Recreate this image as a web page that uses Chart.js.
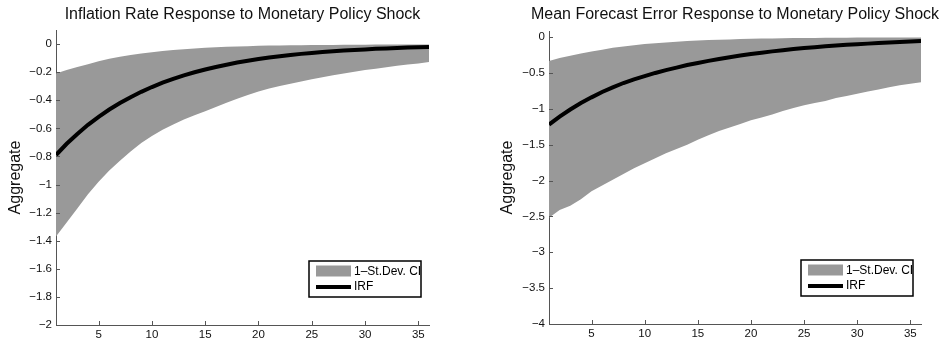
<!DOCTYPE html>
<html>
<head>
<meta charset="utf-8">
<script src="https://cdn.jsdelivr.net/npm/chart.js@4.4.1/dist/chart.umd.min.js"></script>
<style>
  html, body { margin: 0; padding: 0; background: #fff; }
  .panel { position: absolute; top: 0; width: 470px; height: 344px; }
  #left-panel { left: 0; }
  #right-panel { left: 470px; }
</style>
</head>
<body>
<div class="panel" id="left-panel"><canvas id="inflation-chart"></canvas></div>
<div class="panel" id="right-panel"><canvas id="forecast-chart"></canvas></div>
<script>
/** 기간 (horizon) **/
const periods = [1, 2, 3, 4, 5, 6, 7, 8, 9, 10, 11, 12, 13, 14, 15, 16, 17, 18,
  19, 20, 21, 22, 23, 24, 25, 26, 27, 28, 29, 30, 31, 32, 33, 34, 35, 36];
const xTicks = [5, 10, 15, 20, 25, 30, 35];

/** 인플레이션 반응 **/
const inflationIrf = [-0.79, -0.71, -0.64, -0.575, -0.518, -0.466, -0.42, -0.378, -0.34, -0.306,
  -0.275, -0.248, -0.223, -0.201, -0.181, -0.163, -0.147, -0.132, -0.119, -0.107,
  -0.096, -0.087, -0.078, -0.07, -0.063, -0.057, -0.051, -0.046, -0.042, -0.038,
  -0.034, -0.031, -0.028, -0.025, -0.023, -0.021];
const inflationUpper = [-0.21, -0.185, -0.163, -0.143, -0.122, -0.105, -0.09, -0.078, -0.067, -0.058,
  -0.05, -0.043, -0.037, -0.032, -0.027, -0.023, -0.02, -0.017, -0.015, -0.013,
  -0.011, -0.01, -0.009, -0.008, -0.007, -0.0065, -0.006, -0.0055, -0.005, -0.0045,
  -0.004, -0.004, -0.0035, -0.0035, -0.003, -0.003];
const inflationLower = [-1.37, -1.27, -1.17, -1.07, -0.98, -0.9, -0.83, -0.765, -0.705, -0.655,
  -0.61, -0.572, -0.538, -0.507, -0.478, -0.448, -0.418, -0.39, -0.362, -0.337,
  -0.317, -0.299, -0.282, -0.266, -0.251, -0.237, -0.223, -0.21, -0.197, -0.185,
  -0.175, -0.165, -0.155, -0.146, -0.138, -0.128];
const inflationTicks = [0, -0.2, -0.4, -0.6, -0.8, -1, -1.2, -1.4, -1.6, -1.8, -2];

/** 예측오차 반응 **/
const forecastIrf = [-1.22, -1.11, -1.01, -0.92, -0.84, -0.765, -0.7, -0.64, -0.59, -0.545,
  -0.5, -0.46, -0.425, -0.39, -0.36, -0.332, -0.305, -0.28, -0.257, -0.236,
  -0.217, -0.199, -0.182, -0.167, -0.153, -0.141, -0.129, -0.118, -0.108, -0.099,
  -0.091, -0.083, -0.076, -0.069, -0.063, -0.056];
const forecastUpper = [-0.335, -0.29, -0.26, -0.23, -0.2, -0.175, -0.15, -0.13, -0.112, -0.097,
  -0.085, -0.074, -0.064, -0.056, -0.049, -0.042, -0.037, -0.032, -0.028, -0.024,
  -0.021, -0.018, -0.016, -0.014, -0.012, -0.011, -0.01, -0.009, -0.008, -0.007,
  -0.0065, -0.006, -0.0055, -0.005, -0.0045, -0.004];
const forecastLower = [-2.52, -2.41, -2.35, -2.26, -2.15, -2.07, -1.99, -1.91, -1.83, -1.76,
  -1.69, -1.62, -1.56, -1.5, -1.43, -1.37, -1.31, -1.26, -1.21, -1.16,
  -1.12, -1.08, -1.03, -0.99, -0.95, -0.92, -0.89, -0.85, -0.82, -0.79,
  -0.76, -0.73, -0.7, -0.67, -0.65, -0.63];
const forecastTicks = [0, -0.5, -1, -1.5, -2, -2.5, -3, -3.5, -4];

/** 공통 부분 **/
const fontFamily = '"Liberation Sans", Arial, Helvetica, sans-serif';
const axisColor = '#555555';
const bandColor = '#999999';
const legendLabels = ['1\u2013St.Dev. CI', 'IRF'];

function toPoints(values) {
  return periods.map((p, i) => ({x: p, y: values[i]}));
}

function tickText(v) {
  let s = String(Math.round(v * 10) / 10);
  return s.replace('-', '\u2212');
}

/** MATLAB 스타일 축, 제목, 범례 **/
const matlabStyle = {
  id: 'matlabStyle',
  afterDatasetsDraw(chart, args, opts) {
    const ctx = chart.ctx, area = chart.chartArea;
    const xs = chart.scales.x, ys = chart.scales.y;
    ctx.save();
    // 안쪽 눈금
    ctx.strokeStyle = axisColor;
    ctx.lineWidth = 1;
    ctx.beginPath();
    ys.ticks.forEach(t => {
      const y = Math.round(ys.getPixelForValue(t.value)) + 0.5;
      ctx.moveTo(area.left, y);
      ctx.lineTo(area.left + 4, y);
    });
    xs.ticks.forEach(t => {
      const x = Math.round(xs.getPixelForValue(t.value)) + 0.5;
      ctx.moveTo(x, area.bottom);
      ctx.lineTo(x, area.bottom - 4);
    });
    ctx.stroke();

    // 범례
    const w = 112, h = 36;
    const bx = area.right - 8 - w, by = area.bottom - 28 - h;
    ctx.fillStyle = '#ffffff';
    ctx.fillRect(bx, by, w, h);
    ctx.strokeStyle = '#000000';
    ctx.lineWidth = 1.5;
    ctx.strokeRect(bx, by, w, h);
    ctx.fillStyle = bandColor;
    ctx.fillRect(bx + 7, by + 4.5, 35, 11);
    ctx.strokeStyle = '#000000';
    ctx.lineWidth = 4;
    ctx.beginPath();
    ctx.moveTo(bx + 7, by + 26);
    ctx.lineTo(bx + 42, by + 26);
    ctx.stroke();
    ctx.fillStyle = '#000000';
    ctx.font = '12px ' + fontFamily;
    ctx.textAlign = 'left';
    ctx.textBaseline = 'middle';
    ctx.fillText(legendLabels[0], bx + 45, by + 10.5);
    ctx.fillText(legendLabels[1], bx + 45, by + 26);
    ctx.restore();
  },
  afterDraw(chart, args, opts) {
    const ctx = chart.ctx, area = chart.chartArea;
    ctx.save();
    ctx.fillStyle = '#111111';
    ctx.font = '16px ' + fontFamily;
    ctx.textAlign = 'center';
    ctx.textBaseline = 'middle';
    ctx.fillText(opts.title, (area.left + area.right) / 2, 15);
    // y축 제목
    ctx.translate(opts.ylabelX, (area.top + area.bottom) / 2);
    ctx.rotate(-Math.PI / 2);
    ctx.font = '16px ' + fontFamily;
    ctx.fillText('Aggregate', 0, 0);
    ctx.restore();
  }
};

function makeChart(canvasId, cfg) {
  return new Chart(document.getElementById(canvasId), {
    type: 'line',
    data: {
      datasets: [{
        label: legendLabels[1],
        data: toPoints(cfg.irf),
        borderColor: '#000000',
        borderWidth: 4,
        pointRadius: 0,
        fill: false
      }, {
        label: legendLabels[0],
        data: toPoints(cfg.upper),
        borderWidth: 0,
        borderColor: 'rgba(0,0,0,0)',
        backgroundColor: bandColor,
        pointRadius: 0,
        fill: '+1'
      }, {
        label: 'lower',
        data: toPoints(cfg.lower),
        borderWidth: 0,
        borderColor: 'rgba(0,0,0,0)',
        pointRadius: 0,
        fill: false
      }]
    },
    options: {
      responsive: true,
      maintainAspectRatio: false,
      animation: false,
      layout: {padding: {left: 0, right: cfg.padRight, top: cfg.padTop, bottom: 0}},
      plugins: {
        legend: {display: false},
        tooltip: {enabled: false},
        matlabStyle: {title: cfg.title, ylabelX: cfg.ylabelX}
      },
      scales: {
        x: {
          type: 'linear',
          min: 1,
          max: 36,
          afterBuildTicks: s => { s.ticks = xTicks.map(v => ({value: v})); },
          afterFit: s => { s.height = cfg.xHeight; },
          grid: {drawOnChartArea: false, drawTicks: false},
          border: {display: true, color: axisColor, width: 1},
          ticks: {padding: 3, color: '#111111', font: {family: fontFamily, size: 11.5},
            maxRotation: 0, autoSkip: false}
        },
        y: {
          type: 'linear',
          min: cfg.yMin,
          max: cfg.yMax,
          afterBuildTicks: s => { s.ticks = cfg.yTicks.map(v => ({value: v})); },
          afterFit: s => { s.width = cfg.yWidth; },
          grid: {drawOnChartArea: false, drawTicks: false},
          border: {display: true, color: axisColor, width: 1},
          ticks: {padding: 4, color: '#111111', font: {family: fontFamily, size: 11.5},
            autoSkip: false, callback: v => tickText(v)}
        }
      }
    },
    plugins: [matlabStyle]
  });
}

let inflationChart = makeChart('inflation-chart', {
  title: 'Inflation Rate Response to Monetary Policy Shock',
  irf: inflationIrf, upper: inflationUpper, lower: inflationLower,
  yTicks: inflationTicks, yMin: -2, yMax: 0.1,
  yWidth: 56, xHeight: 19, padTop: 30, padRight: 41, ylabelX: 16
});

let forecastChart = makeChart('forecast-chart', {
  title: 'Mean Forecast Error Response to Monetary Policy Shock',
  irf: forecastIrf, upper: forecastUpper, lower: forecastLower,
  yTicks: forecastTicks, yMin: -4, yMax: 0.085,
  yWidth: 79, xHeight: 20, padTop: 31, padRight: 19, ylabelX: 38
});
</script>
</body>
</html>
